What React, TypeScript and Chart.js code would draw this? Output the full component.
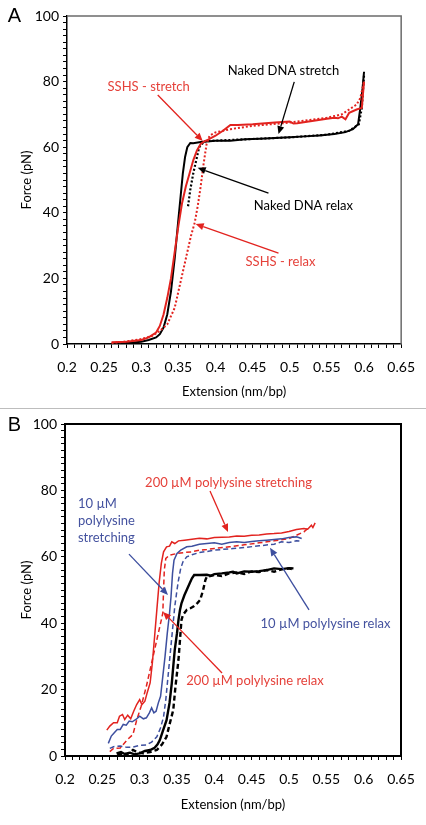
import React, { useEffect, useRef } from 'react';
import { Chart, registerables } from 'chart.js';

Chart.register(...registerables);

type Pt = [number, number];

// ---------- Panel A data (Extension nm/bp, Force pN) ----------
const aNakedStretch: Pt[] = [
  [0.26, 0], [0.28, 0.3], [0.3, 0.7], [0.31, 1.2], [0.32, 2], [0.325, 3], [0.33, 5], [0.335, 9],
  [0.34, 16], [0.345, 26], [0.35, 38], [0.353, 45], [0.356, 52], [0.359, 57], [0.362, 60],
  [0.366, 61.3], [0.37, 61.2], [0.38, 61.6], [0.4, 62], [0.42, 62], [0.44, 62.4], [0.46, 62.6],
  [0.48, 62.8], [0.5, 63], [0.52, 63.3], [0.54, 63.6], [0.56, 64], [0.575, 64.6], [0.585, 65.5],
  [0.592, 67], [0.595, 72], [0.598, 78], [0.6, 83],
];
const aNakedRelax: Pt[] = [
  [0.363, 42], [0.366, 47], [0.37, 52], [0.374, 56], [0.378, 60], [0.385, 61.8], [0.4, 62],
  [0.45, 62.5], [0.5, 63], [0.55, 63.8], [0.58, 65], [0.593, 67], [0.597, 72], [0.6, 82],
];
const aSshsStretch: Pt[] = [
  [0.26, 0.5], [0.28, 0.7], [0.3, 1.2], [0.31, 2], [0.32, 3.5], [0.325, 5.5], [0.33, 9], [0.335, 14],
  [0.34, 20], [0.345, 28], [0.35, 36], [0.355, 43], [0.36, 48], [0.365, 52], [0.37, 56], [0.375, 59],
  [0.38, 61], [0.385, 61.8], [0.39, 62.3], [0.4, 63.5], [0.41, 65], [0.42, 66.8], [0.43, 66.8],
  [0.45, 67], [0.48, 67.5], [0.5, 67.8], [0.505, 67.2], [0.51, 67.3], [0.53, 68], [0.55, 68.7],
  [0.56, 69], [0.565, 68.8], [0.57, 69.3], [0.575, 68.5], [0.58, 70.5], [0.59, 71.5], [0.597, 72],
  [0.6, 80],
];
const aSshsRelax: Pt[] = [
  [0.26, 0.3], [0.28, 0.8], [0.3, 1.5], [0.315, 2.5], [0.325, 4], [0.335, 6], [0.345, 11],
  [0.352, 18], [0.36, 26], [0.367, 33], [0.372, 37], [0.376, 42], [0.38, 48], [0.384, 55],
  [0.388, 61], [0.392, 63.5], [0.4, 64.5], [0.42, 65.5], [0.45, 66.5], [0.5, 67.5], [0.55, 69],
  [0.57, 70], [0.58, 71.5], [0.59, 73], [0.595, 75], [0.6, 80],
];

// ---------- Panel B data ----------
const bRedStretch: Pt[] = [
  [0.256, 7.8], [0.26, 9], [0.265, 10], [0.27, 10], [0.273, 12], [0.277, 12.5], [0.28, 11],
  [0.284, 12.3], [0.288, 11.2], [0.292, 13.5], [0.296, 15.5], [0.3, 17], [0.303, 15.5],
  [0.307, 16.5], [0.31, 19], [0.314, 22], [0.317, 28], [0.32, 36], [0.323, 44], [0.326, 52],
  [0.329, 58], [0.332, 61.5], [0.336, 63], [0.34, 63.2], [0.343, 64.5], [0.347, 64], [0.352, 64.8],
  [0.36, 65], [0.37, 65.3], [0.38, 65.6], [0.39, 65.4], [0.4, 65.8], [0.41, 65.9], [0.42, 66],
  [0.43, 66.3], [0.44, 66.2], [0.45, 66.5], [0.46, 66.6], [0.47, 66.9], [0.48, 67], [0.49, 67.2],
  [0.5, 67.6], [0.51, 68.2], [0.52, 68.5], [0.525, 68.3], [0.53, 69.5], [0.532, 68.8], [0.535, 70.2],
];
const bRedRelax: Pt[] = [
  [0.26, 1.3], [0.265, 2.3], [0.274, 2.4], [0.283, 4.8], [0.291, 6.5], [0.296, 10.8], [0.302, 15],
  [0.309, 21], [0.315, 27], [0.32, 32], [0.325, 37], [0.328, 40], [0.331, 43], [0.332, 50],
  [0.333, 56], [0.335, 59.5], [0.34, 60.5], [0.35, 61], [0.36, 61.3], [0.37, 61.5], [0.38, 62],
  [0.39, 62.2], [0.4, 62.5], [0.42, 63], [0.44, 63.6], [0.46, 64.2], [0.48, 64.8], [0.5, 65.5],
  [0.51, 66.5], [0.52, 67.5], [0.525, 68.5],
];
const bBlueStretch: Pt[] = [
  [0.258, 3.8], [0.262, 6], [0.266, 7], [0.27, 8], [0.274, 8], [0.278, 9.5], [0.282, 9.3],
  [0.286, 10.5], [0.29, 10.3], [0.295, 11], [0.3, 12], [0.305, 11.2], [0.309, 11.5], [0.313, 13],
  [0.316, 14.5], [0.319, 13], [0.322, 13.5], [0.325, 16], [0.328, 18], [0.331, 24], [0.334, 30],
  [0.337, 37], [0.34, 43], [0.342, 48], [0.344, 55], [0.346, 59], [0.35, 61], [0.355, 62],
  [0.363, 63], [0.37, 63.2], [0.38, 63.8], [0.39, 64], [0.4, 64.2], [0.41, 63.8], [0.42, 64.3],
  [0.43, 64.5], [0.44, 64.3], [0.45, 64.6], [0.46, 64.8], [0.47, 65], [0.48, 65.2], [0.49, 65.4],
  [0.5, 65.8], [0.51, 66], [0.517, 65.5],
];
const bBlueRelax: Pt[] = [
  [0.26, 2.3], [0.265, 2.8], [0.274, 3], [0.283, 2.6], [0.291, 2.7], [0.3, 3.2], [0.309, 3.3],
  [0.316, 4.2], [0.323, 5.8], [0.328, 8.5], [0.332, 11.8], [0.335, 17], [0.338, 24], [0.341, 31],
  [0.344, 38], [0.347, 45], [0.35, 50], [0.352, 53], [0.355, 56.5], [0.358, 58.5], [0.363, 60],
  [0.37, 60.6], [0.38, 61.3], [0.39, 61.6], [0.4, 62], [0.41, 62.2], [0.425, 62.5], [0.44, 62.8],
  [0.46, 63.3], [0.48, 63.8], [0.49, 64.5], [0.5, 64.3], [0.51, 64.8], [0.517, 64.7],
];
const bNakedStretch: Pt[] = [
  [0.269, 0.8], [0.275, 1.2], [0.28, 0.6], [0.287, 1], [0.293, 0.5], [0.3, 0.8], [0.307, 1.5],
  [0.314, 1.8], [0.32, 2.5], [0.324, 3.5], [0.327, 4.8], [0.331, 7.5], [0.336, 10.8], [0.34, 16],
  [0.343, 21.9], [0.345, 27], [0.347, 32], [0.35, 37], [0.352, 41], [0.354, 44], [0.356, 46],
  [0.36, 48.5], [0.363, 50], [0.367, 52], [0.37, 53.5], [0.373, 54.5], [0.38, 54.5], [0.39, 54.6],
  [0.395, 54.3], [0.4, 54.8], [0.41, 55], [0.42, 55.3], [0.425, 55.5], [0.43, 55], [0.44, 55.6],
  [0.45, 55.5], [0.46, 55.7], [0.47, 56], [0.48, 56.5], [0.49, 56.3], [0.5, 56.6], [0.506, 56.5],
];
const bNakedRelax: Pt[] = [
  [0.27, 0.3], [0.277, 0.8], [0.283, 0.5], [0.291, 1.8], [0.298, 1], [0.305, 0.8], [0.314, 1.2],
  [0.323, 1.8], [0.33, 3.5], [0.336, 5.8], [0.34, 9.5], [0.345, 13.9], [0.348, 21], [0.352, 29],
  [0.354, 35], [0.356, 41], [0.358, 42.5], [0.363, 44], [0.368, 44.5], [0.372, 45], [0.377, 46],
  [0.381, 47], [0.385, 50], [0.388, 53], [0.39, 54], [0.4, 54.5], [0.41, 54.2], [0.42, 55],
  [0.43, 55.3], [0.44, 54.8], [0.45, 55.6], [0.46, 55.4], [0.47, 56], [0.48, 55.5], [0.49, 56.2],
  [0.5, 56.5], [0.506, 56.2],
];

// ---------- axes ----------
const xMin = 0.2, xMax = 0.65, xMinorStep = 0.01, xLabelEvery = 5;
const yMin = 0, yMax = 100, yMinorStep = 2, yLabelEvery = 10;
const xTitle = 'Extension (nm/bp)';
const yTitle = 'Force (pN)';

// ---------- annotations (text anchor and arrow in data units) ----------
type Note = { lines: string[]; tx: number; ty: number; color: string; arrow: [number, number, number, number]; align?: CanvasTextAlign };
const RED_T = '#e5413a';
const BLUE_T = '#44529f';
const aNotes: Note[] = [
  { lines: ['Naked DNA stretch'], tx: 0.4915, ty: 83.2, color: '#000', arrow: [0.506, 79.9, 0.4848, 64.0] },
  { lines: ['SSHS - stretch'], tx: 0.31, ty: 78.4, color: RED_T, arrow: [0.3222, 75.9, 0.3827, 61.9] },
  { lines: ['Naked DNA relax'], tx: 0.5184, ty: 42.1, color: '#000', arrow: [0.4713, 46.0, 0.376, 53.7] },
  { lines: ['SSHS - relax'], tx: 0.4875, ty: 25, color: RED_T, arrow: [0.4848, 27.7, 0.3733, 36.6] },
];
const bNotes: Note[] = [
  { lines: ['200 µM polylysine stretching'], tx: 0.419, ty: 82.2, color: RED_T, arrow: [0.3942, 79.8, 0.4183, 67.5] },
  { lines: ['10 µM', 'polylysine', 'stretching'], tx: 0.2174, ty: 75.9, color: BLUE_T, align: 'left', arrow: [0.2857, 60.8, 0.3379, 48.5] },
  { lines: ['10 µM polylysine relax'], tx: 0.5489, ty: 39.8, color: BLUE_T, arrow: [0.5268, 44.0, 0.4746, 62.7] },
  { lines: ['200 µM polylysine relax'], tx: 0.4545, ty: 22.6, color: RED_T, arrow: [0.4103, 25, 0.3313, 43.4] },
];

const FONT = "Lato, 'Open Sans', sans-serif";
const RED = '#e2231f';
const BLUE = '#3d4f9f';

type Series = { data: Pt[]; color: string; width: number; dash: number[] };
const aSeries: Series[] = [
  { data: aSshsRelax, color: RED, width: 2, dash: [2, 2] },
  { data: aSshsStretch, color: RED, width: 2, dash: [] },
  { data: aNakedRelax, color: '#000', width: 2.2, dash: [2, 2] },
  { data: aNakedStretch, color: '#000', width: 2, dash: [] },
];
const bSeries: Series[] = [
  { data: bNakedRelax, color: '#000', width: 2.4, dash: [5, 3] },
  { data: bNakedStretch, color: '#000', width: 2.4, dash: [] },
  { data: bBlueRelax, color: BLUE, width: 1.5, dash: [5, 3] },
  { data: bBlueStretch, color: BLUE, width: 1.5, dash: [] },
  { data: bRedRelax, color: RED, width: 1.5, dash: [5, 3] },
  { data: bRedStretch, color: RED, width: 1.5, dash: [] },
];

type PanelCfg = {
  series: Series[];
  notes: Note[];
  letter: string;
  letterY: number;
  yWidth: number;
  xHeight: number;
  pad: { top: number; right: number };
  xTitlePad: number;
  frame: 'A' | 'B';
};

function drawArrow(ctx: CanvasRenderingContext2D, x0: number, y0: number, x1: number, y1: number, color: string) {
  const ang = Math.atan2(y1 - y0, x1 - x0);
  const hl = 8, hw = 3.5;
  const bx = x1 - hl * Math.cos(ang), by = y1 - hl * Math.sin(ang);
  ctx.strokeStyle = color;
  ctx.fillStyle = color;
  ctx.lineWidth = 1.3;
  ctx.setLineDash([]);
  ctx.beginPath();
  ctx.moveTo(x0, y0);
  ctx.lineTo(bx, by);
  ctx.stroke();
  ctx.beginPath();
  ctx.moveTo(x1, y1);
  ctx.lineTo(bx + hw * Math.sin(ang), by - hw * Math.cos(ang));
  ctx.lineTo(bx - hw * Math.sin(ang), by + hw * Math.cos(ang));
  ctx.closePath();
  ctx.fill();
}

function buildConfig(p: PanelCfg): any {
  const decor = {
    id: 'decor',
    afterDraw(chart: any) {
      const { ctx, chartArea: ca, scales } = chart;
      const xs = scales.x, ys = scales.y;
      ctx.save();
      ctx.setLineDash([]);
      if (p.frame === 'A') {
        ctx.strokeStyle = '#6b6b6b';
        ctx.lineWidth = 1.5;
        ctx.beginPath();
        ctx.moveTo(ca.left, ca.top);
        ctx.lineTo(ca.right, ca.top);
        ctx.lineTo(ca.right, ca.bottom);
        ctx.stroke();
      } else {
        ctx.strokeStyle = '#000';
        ctx.lineWidth = 2;
        ctx.strokeRect(ca.left, ca.top, ca.right - ca.left, ca.bottom - ca.top);
      }
      ctx.font = `13px ${FONT}`;
      ctx.textBaseline = 'middle';
      for (const n of p.notes) {
        ctx.fillStyle = n.color;
        ctx.textAlign = n.align || 'center';
        const px = xs.getPixelForValue(n.tx);
        const py = ys.getPixelForValue(n.ty);
        n.lines.forEach((t, i) => ctx.fillText(t, px, py + i * 16.7));
        drawArrow(ctx,
          xs.getPixelForValue(n.arrow[0]), ys.getPixelForValue(n.arrow[1]),
          xs.getPixelForValue(n.arrow[2]), ys.getPixelForValue(n.arrow[3]), n.color === '#000' ? '#000' : (n.color === RED_T ? RED : BLUE));
      }
      ctx.fillStyle = '#000';
      ctx.textAlign = 'center';
      ctx.font = `20px 'Liberation Sans', Arial, sans-serif`;
      ctx.fillText(p.letter, 14.5, p.letterY);
      ctx.restore();
    },
  };
  const tickFont = { family: FONT, size: 14 };
  const titleFont = { family: FONT, size: 13 };
  return {
    type: 'scatter',
    data: {
      datasets: p.series.map((s) => ({
        data: s.data.map(([x, y]) => ({ x, y })),
        showLine: true,
        borderColor: s.color,
        backgroundColor: s.color,
        borderWidth: s.width,
        borderDash: s.dash,
        pointRadius: 0,
        tension: 0,
        fill: false,
      })),
    },
    options: {
      animation: false,
      responsive: false,
      devicePixelRatio: 1,
      layout: { padding: { top: p.pad.top, right: p.pad.right, left: 0, bottom: 0 } },
      plugins: { legend: { display: false }, tooltip: { enabled: false } },
      scales: {
        x: {
          type: 'linear',
          min: xMin,
          max: xMax,
          afterFit: (s: any) => { s.height = p.xHeight; },
          ticks: {
            stepSize: xMinorStep,
            autoSkip: false,
            maxRotation: 0,
            padding: 11,
            color: '#000',
            font: tickFont,
            callback: (v: number) => (Math.round(v / xMinorStep) % xLabelEvery === 0 ? String(Math.round(v * 100) / 100) : ''),
          },
          grid: { drawOnChartArea: false, drawTicks: true, tickLength: 4, color: '#000', tickWidth: 1 },
          border: { display: true, color: '#000', width: p.frame === 'A' ? 1.5 : 2 },
          title: { display: true, text: xTitle, color: '#000', font: titleFont, padding: { top: 0, bottom: p.xTitlePad } },
        },
        y: {
          type: 'linear',
          min: yMin,
          max: yMax,
          afterFit: (s: any) => { s.width = p.yWidth; },
          ticks: {
            stepSize: yMinorStep,
            autoSkip: false,
            padding: 4,
            color: '#000',
            font: tickFont,
            callback: (v: number) => (Math.round(v / yMinorStep) % yLabelEvery === 0 ? String(v) : ''),
          },
          grid: { drawOnChartArea: false, drawTicks: true, tickLength: 4, color: '#000', tickWidth: 1 },
          border: { display: true, color: '#000', width: p.frame === 'A' ? 1.5 : 2 },
          title: { display: true, text: yTitle, color: '#000', font: titleFont, padding: { top: 19, bottom: 0 } },
        },
      },
    },
    plugins: [decor],
  };
}

function Panel({ cfg, width, height }: { cfg: PanelCfg; width: number; height: number }) {
  const ref = useRef<HTMLCanvasElement>(null);
  useEffect(() => {
    const chart = new Chart(ref.current as HTMLCanvasElement, buildConfig(cfg));
    return () => chart.destroy();
  }, []);
  return <canvas ref={ref} width={width} height={height} style={{ display: 'block' }} />;
}

const panelA: PanelCfg = {
  series: aSeries, notes: aNotes, letter: 'A', letterY: 16, yWidth: 67, xHeight: 64,
  pad: { top: 16, right: 24 }, xTitlePad: 8, frame: 'A',
};
const panelB: PanelCfg = {
  series: bSeries, notes: bNotes, letter: 'B', letterY: 16, yWidth: 65, xHeight: 69,
  pad: { top: 15, right: 25 }, xTitlePad: 12, frame: 'B',
};

export default function App() {
  return (
    <div style={{ position: 'absolute', left: 0, top: 0, width: 426, height: 825, background: '#fff' }}>
      <Panel cfg={panelA} width={426} height={408} />
      <div style={{ width: 426, height: 1, background: '#bdbdbd' }} />
      <Panel cfg={panelB} width={426} height={416} />
    </div>
  );
}
